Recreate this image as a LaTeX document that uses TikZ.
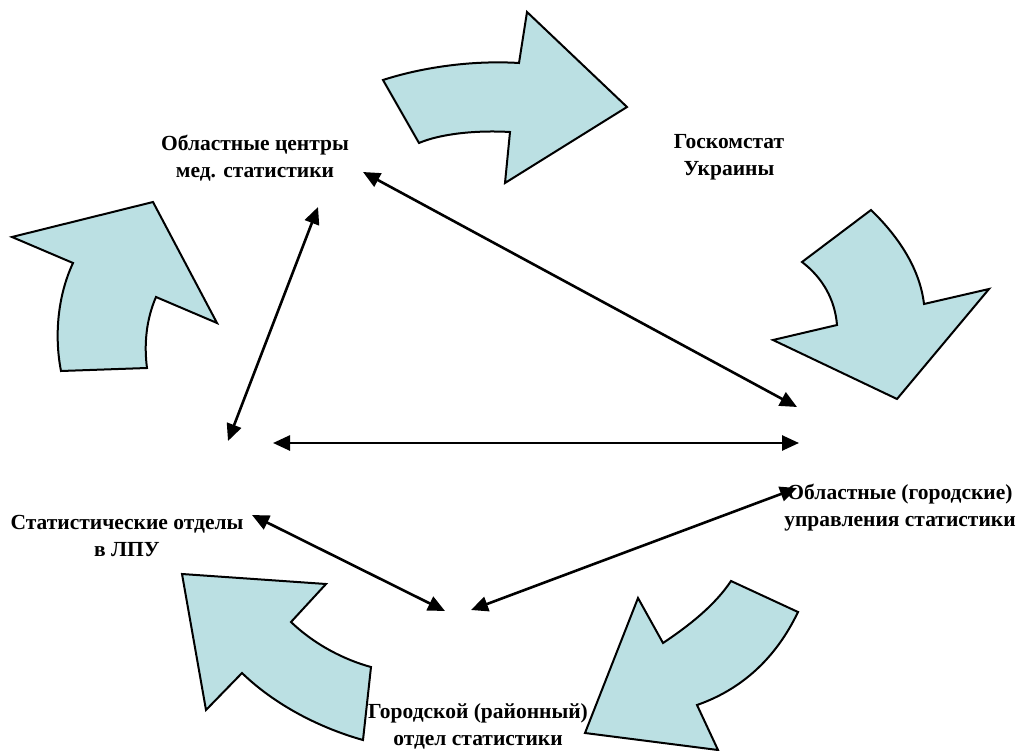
\documentclass[tikz,border=0pt]{standalone}
\usepackage{fontspec}
\setmainfont{Liberation Serif}
\usetikzlibrary{arrows.meta}
\definecolor{flowfill}{RGB}{187,224,227}
\tikzset{
  bigarrow/.style={draw=black, line width=2pt, fill=flowfill, line join=miter},
  label/.style={font=\fontsize{21.5}{27}\selectfont\bfseries, align=center, inner sep=0pt},
  link/.style={line width=2.6pt, {Triangle[length=17pt,width=15pt]}-{Triangle[length=17pt,width=15pt]}}
}
\begin{document}
\begin{tikzpicture}[x=1pt,y=-1pt]
\useasboundingbox (0,0) rectangle (1016,751);
% curved arrows
\draw[bigarrow] (383,80) .. controls (420,68) and (470,60) .. (519,63) -- (527,12) -- (627,107) -- (505,183) -- (510,132) .. controls (475,130) and (440,134) .. (419,143) -- cycle;
\draw[bigarrow] (871,210) .. controls (900,238) and (920,270) .. (924,304) -- (989,289) -- (897,399) -- (773,340) -- (837,325) .. controls (835,300) and (823,278) .. (802,262) -- cycle;
\draw[bigarrow] (12,237) -- (153,202) -- (217,323) -- (156,297) .. controls (146,320) and (144,345) .. (147,368) -- (61,371) .. controls (54,335) and (58,295) .. (73,263) -- cycle;
\draw[bigarrow] (182,574) -- (326,584) -- (291,622) .. controls (315,645) and (345,660) .. (371,667) -- (363,740) .. controls (320,728) and (275,705) .. (242,673) -- (206,710) -- cycle;
\draw[bigarrow] (731,581) -- (798,612) .. controls (775,660) and (740,690) .. (697,705) -- (718,750) -- (585,733) -- (638,598) -- (663,643) .. controls (690,625) and (715,605) .. (731,581) -- cycle;
% labels
\node[label] (oblc) at (255,158) {Областные центры\\мед. статистики};
\node[label] (gosk) at (729,157) {Госкомстат\\Украины};
\node[label] (stat) at (127,536) {Статистические отделы\\в ЛПУ};
\node[label] (oblu) at (900,508) {Областные (городские)\\управления статистики};
\node[label] (gor)  at (478,726) {Городской (районный)\\отдел статистики};
% connector endpoints
\coordinate (a1s) at (363,172); \coordinate (a1e) at (797,407);
\coordinate (a2s) at (318,207); \coordinate (a2e) at (228,441);
\coordinate (a3s) at (273,443); \coordinate (a3e) at (799,443);
\coordinate (a4s) at (252,515); \coordinate (a4e) at (445,611);
\coordinate (a5s) at (471,610); \coordinate (a5e) at (797,488);
\draw[link] (a1s) -- (a1e);
\draw[link] (a2s) -- (a2e);
\draw[link] (a3s) -- (a3e);
\draw[link] (a4s) -- (a4e);
\draw[link] (a5s) -- (a5e);
\end{tikzpicture}
\end{document}
